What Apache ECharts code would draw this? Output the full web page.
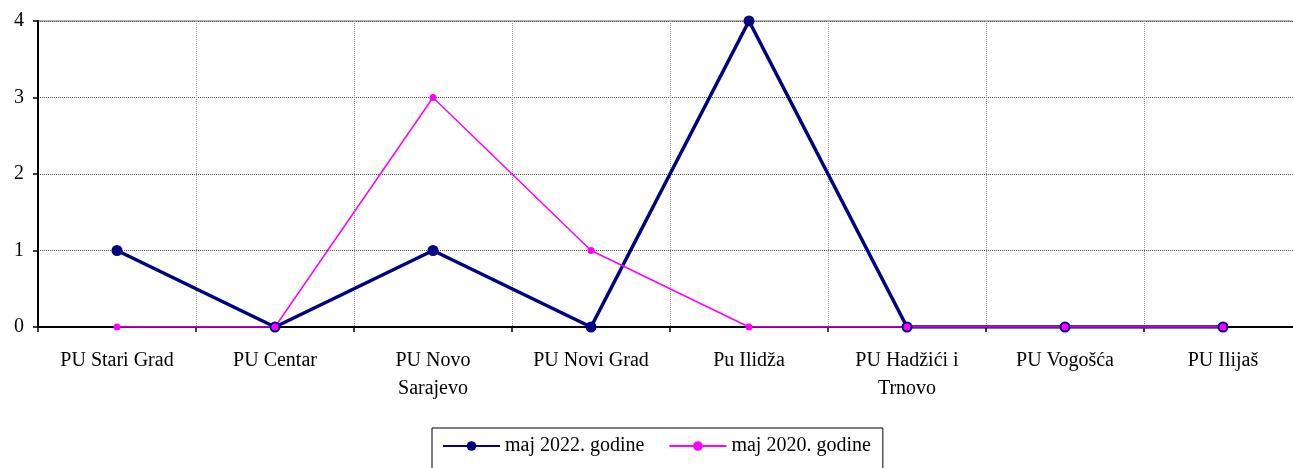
<!DOCTYPE html>
<html>
<head>
<meta charset="utf-8">
<script src="https://cdn.jsdelivr.net/npm/echarts@6/dist/echarts.min.js"></script>
<style>
  html, body { margin: 0; padding: 0; background: #fff; }
  #main { width: 1293px; height: 468px; }
</style>
</head>
<body>
<div id="main"></div>
<script>
var categories = ['PU Stari Grad', 'PU Centar', 'PU Novo\nSarajevo', 'PU Novi Grad', 'Pu Ilidža', 'PU Hadžići i\nTrnovo', 'PU Vogošća', 'PU Ilijaš']
var maj2022 = [1, 0, 1, 0, 4, 0, 0, 0]
var maj2020 = [0, 0, 3, 1, 0, 0, 0, 0]
var yTicks = [0, 1, 2, 3, 4]

var font = '"Liberation Serif", "Times New Roman", serif'
var chart = echarts.init(document.getElementById('main'))
chart.setOption({
  animation: false,
  textStyle: { fontFamily: font },
  grid: {
    left: 38,
    width: 1264,
    top: 21,
    height: 306,
    outerBoundsMode: 'none',
    containLabel: false,
    show: true,
    borderColor: '#999',
    borderWidth: 1.5
  },
  legend: {
    left: 432,
    top: 428,
    padding: [8, 12, 20, 10],
    borderColor: '#000',
    borderWidth: 1,
    itemWidth: 57,
    itemHeight: 12,
    itemGap: 24,
    textStyle: { fontFamily: font, fontSize: 20, color: '#000' },
    data: ['maj 2022. godine', 'maj 2020. godine']
  },
  xAxis: {
    type: 'category',
    data: categories,
    boundaryGap: true,
    axisLine: { lineStyle: { color: '#000', width: 2 } },
    axisTick: { show: true, length: 5, lineStyle: { color: '#000', width: 1.5 } },
    axisLabel: { color: '#000', fontSize: 20, fontFamily: font, margin: 20, lineHeight: 28, interval: 0 },
    splitLine: { show: true, lineStyle: { color: '#999', type: 'dotted', width: 1 } }
  },
  yAxis: {
    type: 'value',
    min: yTicks[0],
    max: yTicks[yTicks.length - 1],
    interval: 1,
    axisLine: { show: true, lineStyle: { color: '#000', width: 2 } },
    axisTick: { show: true, length: 5, lineStyle: { color: '#000', width: 1.5 } },
    axisLabel: { color: '#000', fontSize: 20, fontFamily: font, margin: 14 },
    splitLine: { show: true, lineStyle: { color: '#555', type: 'dotted', width: 1 } }
  },
  series: [
    {
      name: 'maj 2022. godine',
      type: 'line',
      data: maj2022,
      symbol: 'circle',
      symbolSize: 11,
      lineStyle: { color: '#000080', width: 3.5 },
      itemStyle: { color: '#000080' }
    },
    {
      name: 'maj 2020. godine',
      type: 'line',
      data: maj2020,
      symbol: 'circle',
      symbolSize: 7,
      lineStyle: { color: '#ff00ff', width: 1.5 },
      itemStyle: { color: '#ff00ff' }
    }
  ]
})
</script>
</body>
</html>
